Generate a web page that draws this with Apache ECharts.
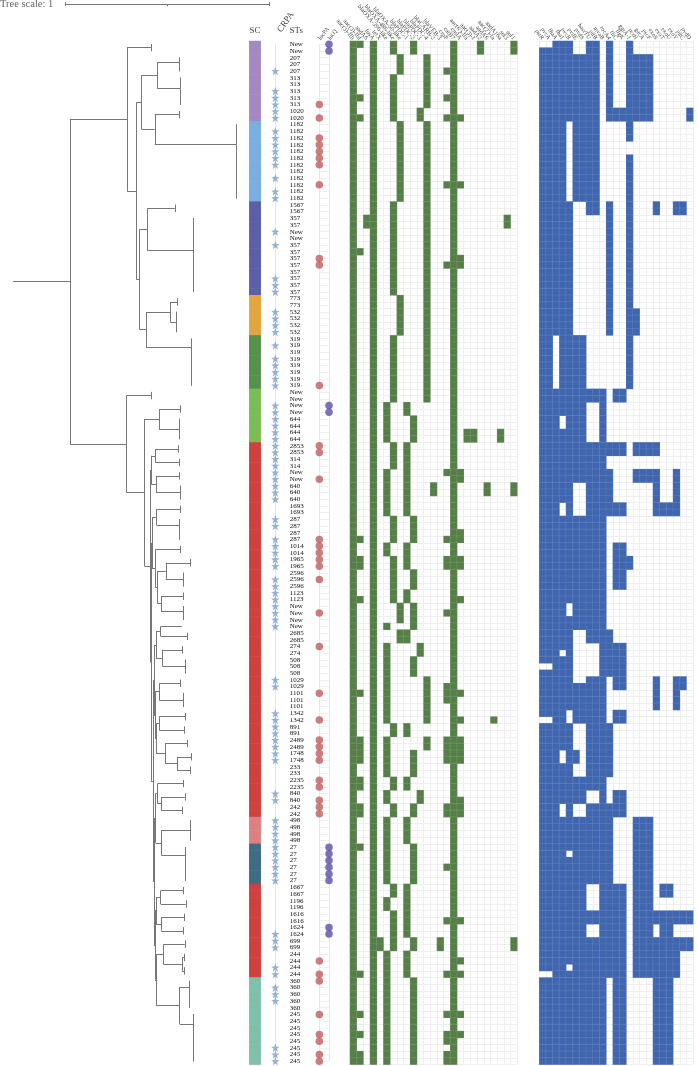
<!DOCTYPE html>
<html>
<head>
<meta charset="utf-8">
<title>Tree and gene profile</title>
<script src="https://cdn.jsdelivr.net/npm/echarts@6/dist/echarts.min.js"></script>
<style>
html, body { margin: 0; padding: 0; background: #fff; }
#main { width: 698px; height: 1066px; }
</style>
</head>
<body>
<div id="main"></div>
<script>
// sequence types, one per row, top to bottom
const sts = ['New','New','207','207','207','313','313','313','313','313','1020','1020',
  '1182','1182','1182','1182','1182','1182','1182','1182','1182','1182','1182','1182',
  '1567','1567','357','357','New','New','357','357','357','357','357','357','357','357',
  '773','773','532','532','532','532','319','319','319','319','319','319','319','319',
  'New','New','New','New','644','644','644','644','2853','2853','314','314','New','New',
  '640','640','640','1693','1693','287','287','287','287','1014','1014','1965','1965',
  '2596','2596','2596','1123','1123','New','New','New','New','2685','2685','274','274',
  '508','508','508','1029','1029','1101','1101','1101','1342','1342','891','891',
  '2489','2489','1748','1748','233','233','2235','2235','840','840','242','242',
  '498','498','498','498','27','27','27','27','27','27','1667','1667','1196','1196',
  '1616','1616','1624','1624','699','699','244','244','244','244','360','360','360','360','360',
  '245','245','245','245','245','245','245','245'];

// SC blocks: how many rows each one covers
const scSizes = [12, 12, 14, 6, 8, 8, 56, 4, 6, 14, 13];
const scColors = ['#a488c0', '#79aee0', '#5a5fa8', '#e4a53e', '#56904f', '#7dbb55',
  '#d04040', '#dd8084', '#3f6b85', '#d04040', '#80c0a8'];

// rows are given as single numbers or [first, last] runs
const crpaRows = [4,[7,11],[13,18],20,22,23,28,30,[35,37],[40,43],45,[47,51],[54,68],71,72,
  [74,78],[80,87],95,96,[100,107],112,113,[116,125],[133,135],138,139,[141,143],[150,152]];
const dotColumns = ['lucPA', 'lucQ'];
const lucPaRows = [9,11,[14,18],21,32,33,51,60,61,65,[74,78],80,85,90,97,101,[104,107],110,111,
  [113,115],137,139,140,145,148,149,151,152];
const lucQRows = [0,1,54,55,[120,125],132,133];

const resGenes = ["aac(3)-IIb","aac(3)-IId","aadA6","fosA","tetX","blaOXA-396-like","blaOXA-486-like",
  "blaOXA-50-like","blaPDC-1","blaPDC-2","blaPDC-3","blaPDC-4","blaCARB-2","blaVEB-3","crpP","catB7",
  "cmlA","aac(6')-IIa","aac(3)-I","aadA2","aadA6","aac(2')-Ia","aadA16a","sul3","sul1"];
const resRows = [
  [[0,152]],
  [0,8,11,31,74,77,78,83,97,[104,107],110,111,114,115,120,139,145,148,151,152],
  [26,27],
  [[0,152]],
  [134,135],
  [[54,59],[64,70],75,76,87,[90,101],[104,109],112,113,[116,125],128,129,[136,152]],
  [0,1,[5,11],[24,37],[44,53],[60,63],[71,74],[77,83],102,103,110,111,114,115,126,127,[130,135]],
  [[2,4],[12,23],[38,43],[84,86],88,89],
  [54,55,[60,70],[75,78],82,83,88,89,102,103,110,111,[116,119],[126,133],[136,139]],
  [0,1,[56,59],[71,74],[79,81],[84,87],[92,94],[106,109],114,115,[120,125],134,135,[140,152]],
  [10,11,90,91,112,113],
  [[2,9],[12,53],[95,101],104,105],
  [66,67],
  [134,135],
  [4,8,11,21,33,64,74,77,78,85,[96,98],[104,107],114,115,123,131,139,145,148,149,151,152],
  [[0,152]],
  [11,21,32,33,64,65,73,74,77,78,83,97,101,[104,107],[113,115],131,137,139,145,148],
  [58,59],
  [58,59],
  [0,1],
  [66,67],
  [101],
  [58,59],
  [26,27],
  [0,1,66,67,134,135]
];

const virGenes = ['pstR','pvcA','fhaA','fha1','pvcB','pvdE','pvdS','hasrTU','pilB','mvaB','rocA4',
  'fliC','flgK','ggtA-1','pcrH','gacA','pscF','exoS','exoT','exoU','exoY','pilC','pvdD'];
const virRows = [
  [[1,92],[94,100],[102,138],[140,152]],
  [[1,92],[94,100],[102,138],[140,152]],
  [[0,43],[52,152]],
  [[0,55],[58,68],[71,90],[92,105],[108,113],[116,152]],
  [[0,11],[24,83],[86,99],[102,120],[122,137],[139,152]],
  [[2,23],[44,65],[71,87],[96,101],106,107,[110,113],[116,152]],
  [[2,23],[44,65],[71,87],[96,101],[110,113],[116,152]],
  [[0,25],52,53,[60,89],[95,111],[114,125],130,131,[134,152]],
  [[0,25],52,53,[60,89],[95,111],[114,125],130,131,[134,152]],
  [[52,152]],
  [[0,11],[24,43],60,61,[64,70],[88,94],[102,109],[114,139]],
  [10,11,52,53,60,61,69,70,[75,81],[90,96],100,101,[112,115],[126,152]],
  [10,11,52,53,60,61,69,70,[75,81],[90,96],100,101,[112,115],[126,152]],
  [[0,14],[17,51],77,78],
  [[2,11],[40,43],60,61,64,65,[116,139]],
  [[2,11],60,61,64,65,[116,139]],
  [[2,11],60,61,64,65,[116,139]],
  [24,25,60,61,[64,70],[95,99],130,131,[134,152]],
  [69,70,126,127,[130,152]],
  [69,70,126,127,[130,152]],
  [24,25,[64,70],[95,99],130,131,[134,139]],
  [24,25,95,96,130,131,134,135],
  [10,11,130,131,134,135]
];

// tree in tree-scale units: node = [depth, children], tip = [depth, firstRow, lastRow, joinRow]
const treeRootDepth = 0;
const tree = [0.279, [
  [0.559, [
    [0.676, 0, 1],
    [0.605, [
      [0.63, [
        [0.707, [[0.816, 2, 4, 2.64], [0.819, 5, 9, 6.57]]],
        [0.695, [[0.816, 10, 11], [1.095, 12, 23, 14.9]]]
      ]],
      [0.62, [
        [0.658, [[0.793, 24, 25], [0.882, 26, 37, 30.8]]],
        [0.652, [
          [0.771, [[0.807, 38, 39], [0.802, 40, 43]]],
          [0.873, 44, 51, 45.3]
        ]]
      ]]
    ]]
  ]],
  [0.557, [
    [0.676, 52, 53],
    [0.644, [
      [0.716, [[0.819, 54, 55], [0.815, 56, 59]]],
      [0.673, [
        [0.678, [
          [0.698, [[0.81, 60, 61], [0.817, 62, 63]]],
          [0.702, [[0.815, 64, 65], [0.82, 66, 68]]]
        ]],
        [0.676, [
          [0.681, [
            [0.704, [[0.82, 69, 70], [0.815, 71, 74, 71.9]]],
            [0.698, [
              [0.819, 75, 76],
              [0.707, [
                [0.749, [[0.868, 77, 78], [0.835, 79, 81]]],
                [0.725, [[0.835, 82, 83], [0.835, 84, 86, 84.7]]]
              ]]
            ]]
          ]],
          [0.686, [
            [0.691, [
              [0.701, [
                [0.724, [[0.827, 87, 87], [0.853, 88, 89]]],
                [0.734, [[0.83, 90, 91], [0.843, 92, 94]]]
              ]],
              [0.696, [
                [0.717, [[0.822, 95, 96], [0.835, 97, 99]]],
                [0.701, [
                  [0.717, [[0.845, 100, 101], [0.84, 102, 103]]],
                  [0.745, [
                    [0.853, 104, 105],
                    [0.804, [[0.874, 106, 107], [0.868, 108, 109]]]
                  ]]
                ]]
              ]]
            ]],
            [0.691, [
              [0.699, [
                [0.709, [
                  [0.837, 110, 111],
                  [0.727, [[0.842, 112, 113], [0.83, 114, 115]]]
                ]],
                [0.727, [[0.868, 116, 119], [0.843, 120, 125, 121.2]]]
              ]],
              [0.696, [
                [0.701, [
                  [0.724, [[0.837, 126, 127], [0.847, 128, 129]]],
                  [0.727, [[0.84, 130, 131], [0.837, 132, 133]]]
                ]],
                [0.702, [
                  [0.737, [
                    [0.842, 134, 135],
                    [0.828, [[0.838, 136, 137], [0.838, 138, 139]]]
                  ]],
                  [0.817, [[0.864, 140, 144, 140.9], [0.886, 145, 152, 146.4]]]
                ]]
              ]]
            ]]
          ]]
        ]]
      ]]
    ]]
  ]]
]];

const scaleStart = 0.258;
const scaleLength = 1;
const scaleRow = -6;

const labelFont = 'Liberation Serif';
const rowPx = 6.69;
const topPx = 41;
const rowsPx = sts.length * rowPx;

function expandRows(list) {
  const out = [];
  list.forEach(function (item) {
    if (Array.isArray(item)) {
      for (let i = item[0]; i <= item[1]; i++) out.push(i);
    } else {
      out.push(item);
    }
  });
  return out;
}

function cells(rowLists) {
  const out = [];
  rowLists.forEach(function (list, col) {
    expandRows(list).forEach(function (row) {
      out.push([col, row, 1]);
    });
  });
  return out;
}

// walks the tree, returns the row the node sits on and collects the segments
const treeSegs = [];
function layout(node, parentDepth) {
  let row;
  if (Array.isArray(node[1])) {
    const rows = node[1].map(function (kid) {
      return layout(kid, node[0]);
    });
    row = (rows[0] + rows[rows.length - 1]) / 2;
    treeSegs.push({ coords: [[node[0], rows[0]], [node[0], rows[rows.length - 1]]] });
  } else {
    row = node[3] !== undefined ? node[3] : (node[1] + node[2]) / 2;
    treeSegs.push({ coords: [[node[0], node[1] - 0.05], [node[0], node[2] + 0.05]] });
  }
  treeSegs.push({ coords: [[parentDepth, row], [node[0], row]] });
  return row;
}
layout(tree, treeRootDepth);

const scaleSegs = [
  { coords: [[scaleStart, scaleRow], [scaleStart + scaleLength, scaleRow]] },
  { coords: [[scaleStart, scaleRow - 0.3], [scaleStart, scaleRow + 0.3]] },
  { coords: [[scaleStart + scaleLength / 2, scaleRow], [scaleStart + scaleLength / 2, scaleRow + 0.3]] },
  { coords: [[scaleStart + scaleLength, scaleRow - 0.3], [scaleStart + scaleLength, scaleRow + 0.3]] }
];

const scData = [];
scSizes.forEach(function (size, i) {
  const start = scData.length;
  for (let k = 0; k < size; k++) {
    scData.push({ value: [0, start + k, 1], itemStyle: { color: scColors[i] } });
  }
});

const rowIds = sts.map(function (s, i) { return i; });
const starPath = 'path://M50,2 L62,36 98,37 69,58 80,94 50,73 20,94 31,58 2,37 38,36 Z';
const gridLine = { show: true, interval: 0, lineStyle: { color: '#efefef', width: 1 } };

function hiddenRowAxis(index) {
  return {
    gridIndex: index, type: 'category', inverse: true, data: rowIds,
    axisLine: { show: false }, axisTick: { show: false }, axisLabel: { show: false },
    splitLine: gridLine
  };
}
function headerAxis(index, names, size, rotate, margin) {
  return {
    gridIndex: index, type: 'category', position: 'top', data: names,
    axisLine: { show: false }, axisTick: { show: false },
    splitLine: names.length > 1 ? gridLine : { show: false },
    axisLabel: { interval: 0, rotate: rotate, fontSize: size, margin: margin, color: '#444', fontFamily: labelFont }
  };
}

const option = {
  animation: false,
  backgroundColor: '#fff',
  title: {
    text: 'Tree scale: 1', left: 0, top: -1, padding: 0,
    textStyle: { fontSize: 10.5, fontWeight: 'normal', color: '#666', fontFamily: labelFont }
  },
  grid: [
    { left: 13, top: topPx, width: 265.2, height: rowsPx },                                 // tree
    { left: 249.3, top: topPx, width: 11.4, height: rowsPx },                               // SC
    { left: 275.3, top: topPx + rowPx / 2, width: 8, height: rowsPx - rowPx },              // CRPA
    { left: 289.7, top: topPx, width: 13, height: rowsPx },                                 // STs
    { left: 319.3, top: topPx + rowPx / 2, width: 9.7, height: rowsPx - rowPx },            // dots
    { left: 350, top: topPx, width: 25 * rowPx, height: rowsPx },                           // resistance
    { left: 539.3, top: topPx, width: 23 * rowPx, height: rowsPx }                          // virulence
  ],
  xAxis: [
    { gridIndex: 0, type: 'value', min: 0, max: 1.3, show: false },
    headerAxis(1, ['SC'], 9, 0, 6),
    {
      gridIndex: 2, type: 'value', position: 'top', min: 0, max: 1,
      name: 'CRPA', nameLocation: 'middle', nameRotate: 55, nameGap: 13,
      nameTextStyle: { fontSize: 9, color: '#444', fontFamily: labelFont },
      axisLine: { show: false }, axisTick: { show: false }, axisLabel: { show: false }, splitLine: { show: false }
    },
    headerAxis(3, ['STs'], 9, 0, 6),
    {
      gridIndex: 4, type: 'value', position: 'top', min: 0, max: 1, interval: 1,
      axisLine: { show: false }, axisTick: { show: false },
      splitLine: { show: true, lineStyle: { color: '#e8e8e8' } },
      axisLabel: {
        rotate: 52, fontSize: 6, margin: 5, color: '#444', fontFamily: labelFont,
        formatter: function (v) { return dotColumns[v]; }
      }
    },
    headerAxis(5, resGenes, 6.2, 50, 2),
    headerAxis(6, virGenes, 6, 55, 2)
  ],
  yAxis: [
    { gridIndex: 0, type: 'value', inverse: true, min: -0.5, max: sts.length - 0.5, show: false },
    hiddenRowAxis(1),
    {
      gridIndex: 2, type: 'value', inverse: true, min: 0, max: sts.length - 1, interval: 1,
      axisLine: { show: true, lineStyle: { color: '#e8e8e8' } },
      axisTick: { show: false }, axisLabel: { show: false }, splitLine: { show: false }
    },
    {
      gridIndex: 3, type: 'category', inverse: true, data: sts,
      axisLine: { show: false }, axisTick: { show: false }, splitLine: { show: false },
      axisLabel: {
        interval: 0, align: 'left', margin: 0, hideOverlap: false,
        fontSize: 7, color: '#111', fontFamily: labelFont
      }
    },
    {
      gridIndex: 4, type: 'value', inverse: true, min: 0, max: sts.length - 1, interval: 1,
      axisLine: { show: false }, axisTick: { show: false }, axisLabel: { show: false },
      splitLine: { show: true, lineStyle: { color: '#f0f0f0' } }
    },
    hiddenRowAxis(5),
    hiddenRowAxis(6)
  ],
  series: [
    {
      type: 'lines', coordinateSystem: 'cartesian2d', xAxisIndex: 0, yAxisIndex: 0, clip: false,
      data: treeSegs, silent: true,
      lineStyle: { color: '#777', width: 1, opacity: 1 }
    },
    {
      type: 'lines', coordinateSystem: 'cartesian2d', xAxisIndex: 0, yAxisIndex: 0, clip: false,
      data: scaleSegs, silent: true,
      lineStyle: { color: '#777', width: 1, opacity: 1 }
    },
    {
      type: 'heatmap', xAxisIndex: 1, yAxisIndex: 1, data: scData,
      itemStyle: { borderWidth: 0 }
    },
    {
      type: 'scatter', xAxisIndex: 2, yAxisIndex: 2, symbol: starPath, symbolSize: 8.5,
      data: expandRows(crpaRows).map(function (r) { return [0, r]; }),
      itemStyle: { color: '#7a9fd2' }
    },
    {
      type: 'scatter', xAxisIndex: 4, yAxisIndex: 4, symbol: 'circle', symbolSize: 7.5,
      data: expandRows(lucPaRows).map(function (r) { return [0, r]; }),
      itemStyle: { color: '#c25c5e' }
    },
    {
      type: 'scatter', xAxisIndex: 4, yAxisIndex: 4, symbol: 'circle', symbolSize: 7.5,
      data: expandRows(lucQRows).map(function (r) { return [1, r]; }),
      itemStyle: { color: '#5a4fa6' }
    },
    {
      type: 'heatmap', xAxisIndex: 5, yAxisIndex: 5, data: cells(resRows),
      itemStyle: { color: '#567f48', borderColor: 'rgba(220,230,215,0.22)', borderWidth: 0.5 }
    },
    {
      type: 'heatmap', xAxisIndex: 6, yAxisIndex: 6, data: cells(virRows),
      itemStyle: { color: '#3f66ae', borderColor: 'rgba(210,220,240,0.22)', borderWidth: 0.5 }
    }
  ]
};

const myChart = echarts.init(document.getElementById('main'));
myChart.setOption(option);
</script>
</body>
</html>
